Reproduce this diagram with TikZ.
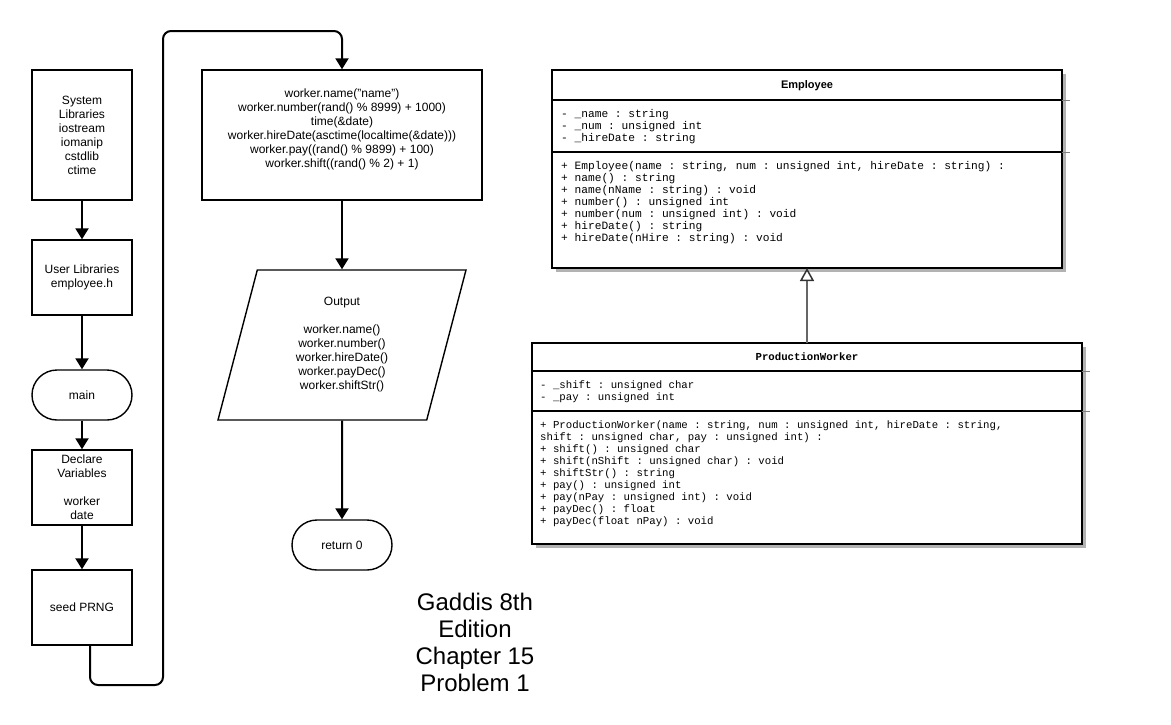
\documentclass[tikz,border=0pt]{standalone}
\usepackage{fontspec}
\setmainfont{Liberation Sans}
\setmonofont{Liberation Mono}
\usetikzlibrary{shapes.geometric,arrows.meta,shadows}

\begin{document}
\begin{tikzpicture}
[x=1pt,y=-1pt,line join=miter]
\tikzstyle{every node}=[font=\fontsize{12}{14}\selectfont, align=center]
\tikzstyle{box}=[draw, line width=1.4pt, minimum width=100pt, inner sep=2pt]
\tikzstyle{term}=[box, rounded corners=25pt, minimum height=50pt]
\tikzstyle{flow}=[draw, line width=2pt, -{Triangle[length=11pt,width=13pt]}]
\tikzstyle{uml}=[draw, fill=white, line width=2pt, outer sep=0pt, drop shadow={shadow xshift=4pt, shadow yshift=-4pt, fill=black!30, opacity=1}]
\tikzstyle{member}=[anchor=north west, inner sep=0pt, align=left, font=\ttfamily\fontsize{11.2}{12}\selectfont, execute at begin node=\rule{0pt}{9.5pt}]
\useasboundingbox (0,0) rectangle (1171,724);
% program flow
\node[box, minimum height=130pt] (sys) at (82,135) {System\\Libraries\\iostream\\iomanip\\cstdlib\\ctime};
\node[box, minimum height=75pt] (user) at (82,277.5) {User Libraries\\employee.h};
\node[term] (main) at (82,395) {main};
\node[box, minimum height=75pt] (decl) at (82,487.5) {Declare\\Variables\\[14pt]worker\\date};
\node[box, minimum height=75pt] (seed) at (82,607.5) {seed PRNG};
\node[box, minimum width=280pt, minimum height=130pt] (code) at (342,135) {worker.name("name")\\worker.number(rand() \% 8999) + 1000)\\time(\&date)\\worker.hireDate(asctime(localtime(\&date)))\\worker.pay((rand() \% 9899) + 100)\\worker.shift((rand() \% 2) + 1)\\ \mbox{}};
\node[trapezium, draw, line width=1.4pt, trapezium left angle=67.5, trapezium right angle=112.5, trapezium stretches body, minimum width=248pt, minimum height=150pt, inner sep=0pt] (out) at (342,345) {Output\\[14pt]worker.name()\\worker.number()\\worker.hireDate()\\worker.payDec()\\worker.shiftStr()};
\node[term] (ret) at (342,545) {return 0};
\node[font=\fontsize{24}{27}\selectfont] (title) at (475,642) {Gaddis 8th\\Edition\\Chapter 15\\Problem 1};
\draw[flow] (sys) -- (user);
\draw[flow] (user) -- (main);
\draw[flow] (main) -- (decl);
\draw[flow] (decl) -- (seed);
\draw[flow] (code) -- (out);
\draw[flow] (out) -- (ret);
\coordinate (loopb) at (163,685);
\coordinate (loopt) at (163,31);
\draw[flow, rounded corners=8pt] ([xshift=8pt]seed.south) |- (loopb) -- (loopt) -| (code.north);
% class diagram
\node[uml, minimum width=510pt, minimum height=198pt] (emp) at (807,169) {};
\node[uml, minimum width=550pt, minimum height=201pt] (pw) at (807,443.5) {};
\draw[line width=2pt] ([yshift=-30pt]emp.north west) -- ([yshift=-30pt]emp.north east);
\draw[line width=2pt] ([yshift=-82pt]emp.north west) -- ([yshift=-82pt]emp.north east);
\draw[line width=2pt] ([yshift=-28pt]pw.north west) -- ([yshift=-28pt]pw.north east);
\draw[line width=2pt] ([yshift=-68pt]pw.north west) -- ([yshift=-68pt]pw.north east);
\draw[gray] ([yshift=-30pt]emp.north east) -- ++(8,0) ([yshift=-82pt]emp.north east) -- ++(8,0);
\draw[gray] ([yshift=-28pt]pw.north east) -- ++(8,0) ([yshift=-68pt]pw.north east) -- ++(8,0);
\node[font=\bfseries\fontsize{11}{13}\selectfont] (emptitle) at (807,86) {Employee};
\node[member] (empattr) at (561,109.5) {- \_name : string\\- \_num : unsigned int\\- \_hireDate : string};
\node[member] (empops) at (561,161.5) {+ Employee(name : string, num : unsigned int, hireDate : string) :\\+ name() : string\\+ name(nName : string) : void\\+ number() : unsigned int\\+ number(num : unsigned int) : void\\+ hireDate() : string\\+ hireDate(nHire : string) : void};
\node[font=\ttfamily\bfseries\fontsize{10.7}{12}\selectfont] (pwtitle) at (807,357) {ProductionWorker};
\node[member, font=\ttfamily\fontsize{10.7}{12}\selectfont] (pwattr) at (540,380.5) {- \_shift : unsigned char\\- \_pay : unsigned int};
\node[member, font=\ttfamily\fontsize{10.7}{12}\selectfont] (pwops) at (540,420.5) {+ ProductionWorker(name : string, num : unsigned int, hireDate : string,\\shift : unsigned char, pay : unsigned int) :\\+ shift() : unsigned char\\+ shift(nShift : unsigned char) : void\\+ shiftStr() : string\\+ pay() : unsigned int\\+ pay(nPay : unsigned int) : void\\+ payDec() : float\\+ payDec(float nPay) : void};
\draw[line width=1.5pt, draw=gray!80!black, -{Triangle[open,length=13pt,width=14pt,color=black!80]}] (pw) -- (emp);
\end{tikzpicture}
\end{document}
